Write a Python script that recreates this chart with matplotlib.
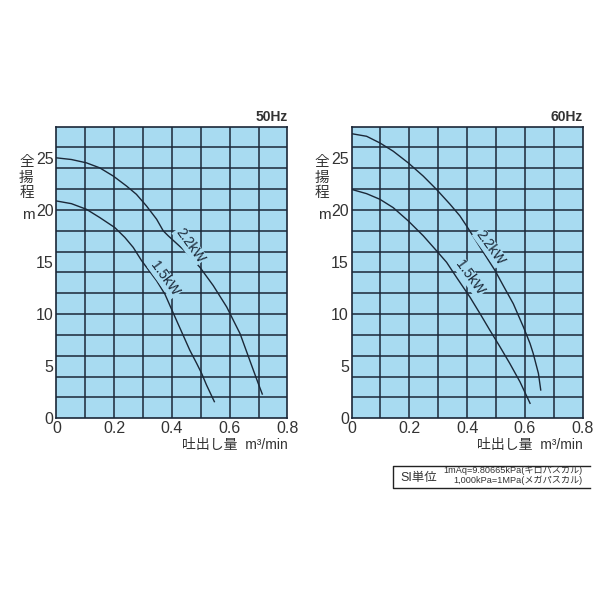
import matplotlib.pyplot as plt

plt.rcParams['font.family'] = ['Liberation Sans', 'Noto Sans CJK JP', 'DejaVu Sans']

# 50Hz curves (flow m3/min, head m)
q50_22 = [0.0, 0.052, 0.104, 0.150, 0.197, 0.243, 0.277, 0.312, 0.347, 0.370, 0.387,
          0.451, 0.497, 0.543, 0.590, 0.613, 0.636, 0.659, 0.682, 0.699, 0.713]
h50_22 = [25.0, 24.84, 24.52, 24.04, 23.25, 22.29, 21.5, 20.38, 19.11, 17.99, 17.52,
          15.9, 14.49, 12.74, 10.67, 9.39, 8.12, 6.37, 4.62, 3.34, 2.32]
q50_15 = [0.0, 0.052, 0.104, 0.150, 0.202, 0.237, 0.266, 0.295, 0.347, 0.376,
          0.393, 0.416, 0.439, 0.462, 0.486, 0.503, 0.520, 0.547]
h50_15 = [20.86, 20.6, 20.06, 19.27, 18.31, 17.36, 16.4, 15.13, 13.2, 11.9,
          10.83, 9.39, 7.96, 6.53, 5.25, 4.30, 3.18, 1.59]

# 60Hz curves
q60_22 = [0.0, 0.052, 0.098, 0.144, 0.196, 0.248, 0.294, 0.341, 0.375, 0.398,
          0.45, 0.497, 0.525, 0.560, 0.595, 0.618, 0.629, 0.647, 0.655]
h60_22 = [27.32, 27.07, 26.43, 25.64, 24.52, 23.25, 21.97, 20.54, 19.43, 18.47,
          16.2, 14.17, 12.74, 10.99, 8.76, 7.17, 6.21, 4.30, 2.71]
q60_15 = [0.0, 0.052, 0.098, 0.144, 0.196, 0.248, 0.294, 0.329, 0.364, 0.410,
          0.445, 0.479, 0.514, 0.548, 0.583, 0.618]
h60_15 = [21.97, 21.56, 21.02, 20.22, 18.95, 17.52, 16.08, 14.97, 13.5, 11.62,
          10.03, 8.44, 6.85, 5.25, 3.50, 1.43]

xticks = [0, 0.2, 0.4, 0.6, 0.8]
xtick_labels = ["0", "0.2", "0.4", "0.6", "0.8"]
yticks = [0, 5, 10, 15, 20, 25]

blue = "#a8dbf1"
dark = "#1b2838"
txt = "#333333"

panels = [
    ("50Hz", [0.094, 0.303, 0.385, 0.486],
     [(q50_22, h50_22, "2.2kW", 0.462, 16.6), (q50_15, h50_15, "1.5kW", 0.376, 13.4)]),
    ("60Hz", [0.586, 0.303, 0.385, 0.486],
     [(q60_22, h60_22, "2.2kW", 0.479, 16.4), (q60_15, h60_15, "1.5kW", 0.41, 13.5)]),
]

fig = plt.figure(figsize=(6, 6), dpi=100)

for title, rect, curves in panels:
    ax = fig.add_axes(rect)
    ax.set_facecolor(blue)
    ax.set_xlim(0, 0.8)
    ax.set_ylim(0, 28)
    for xv in [0.1 * i for i in range(1, 8)]:
        ax.axvline(xv, color=dark, lw=1.1)
    for yv in range(2, 28, 2):
        ax.axhline(yv, color=dark, lw=1.1)
    for sp in ax.spines.values():
        sp.set_color(dark)
        sp.set_linewidth(1.2)
    ax.set_xticks(xticks)
    ax.set_xticklabels(xtick_labels)
    ax.set_yticks(yticks)
    ax.tick_params(length=0, labelsize=11.5, colors=txt, pad=2)
    for q, h, lab, lx, ly in curves:
        ax.plot(q, h, color=dark, lw=1.0)
        ax.text(lx, ly, lab, rotation=-54, ha="center", va="center", fontsize=10,
                color=dark, rotation_mode="anchor",
                bbox=dict(facecolor=blue, edgecolor="none", pad=0.5))
    ax.text(1.0, 1.01, title, transform=ax.transAxes, ha="right", va="bottom",
            fontsize=10, fontweight="bold", color=txt)
    ax.text(1.0, -0.068, "吐出し量  m³/min", transform=ax.transAxes, ha="right",
            va="top", fontsize=10, color=txt)
    # vertical y label
    x0 = rect[0] - 0.05
    for i, ch in enumerate("全揚程"):
        fig.text(x0, 0.730 - i * 0.026, ch, ha="center", va="center", fontsize=10.5, color=txt)
    fig.text(x0 + 0.004, 0.642, "m", ha="center", va="center", fontsize=11, color=txt)

# SI unit box (right edge cut off in the original)
box_x = [0.983, 0.655, 0.655, 0.983]
box_y = [0.223, 0.223, 0.187, 0.187]
fig.add_artist(plt.Line2D(box_x, box_y, transform=fig.transFigure, color="#222222", lw=1.0))
fig.text(0.668, 0.203, "SI単位", ha="left", va="center", fontsize=9, color=txt)
fig.text(0.970, 0.216, "1mAq=9.80665kPa(キロパスカル)", ha="right", va="center",
         fontsize=6.6, color=txt)
fig.text(0.970, 0.199, "1,000kPa=1MPa(メガパスカル)", ha="right", va="center",
         fontsize=6.6, color=txt)

plt.savefig("out.png", dpi=100)
